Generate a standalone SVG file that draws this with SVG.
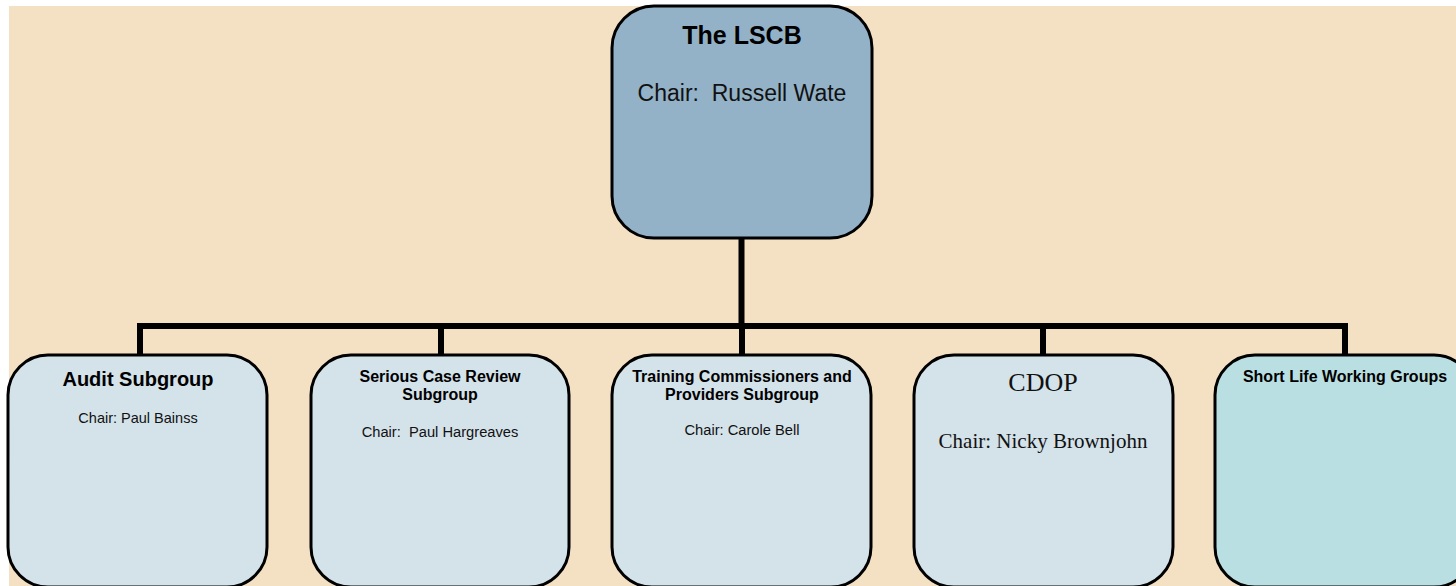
<svg xmlns="http://www.w3.org/2000/svg" width="1456" height="586" viewBox="0 0 1456 586">
<style>
.box{stroke:#000;stroke-width:3}
.top{fill:#93B2C8}
.sub{fill:#D4E2EA}
.slw{fill:#B9DFE2}
.b{font-family:"Liberation Sans",Arial,sans-serif;font-weight:bold;fill:#000;text-anchor:middle}
.r{font-family:"Liberation Sans",Arial,sans-serif;fill:#111;text-anchor:middle;white-space:pre}
.s{font-family:"Liberation Serif","Times New Roman",serif;fill:#111;text-anchor:middle}
.conn{fill:none;stroke:#000;stroke-width:6;stroke-linejoin:miter}
</style>
<rect x="0" y="0" width="1456" height="586" fill="#FFFFFF"/>
<rect x="9" y="6" width="1447" height="580" fill="#F4E0C3"/>
<g id="connectors">
<path class="conn" d="M741.5,238 V326"/>
<path class="conn" d="M140,355 V326 H1345 V355"/>
<path class="conn" d="M441,326 V355 M742,326 V355 M1043,326 V355"/>
</g>
<g id="lscb">
<rect class="box top" x="612" y="6" width="260" height="232" rx="42" ry="42"/>
<text class="b" x="742" y="44" font-size="25">The LSCB</text>
<text class="r" x="742" y="101" font-size="23" xml:space="preserve">Chair:  Russell Wate</text>
</g>
<g id="audit">
<rect class="box sub" x="8" y="355" width="259" height="232" rx="40" ry="40"/>
<text class="b" x="138" y="386" font-size="20">Audit Subgroup</text>
<text class="r" x="138" y="423" font-size="14.5">Chair: Paul Bainss</text>
</g>
<g id="scr">
<rect class="box sub" x="311" y="355" width="258" height="232" rx="40" ry="40"/>
<text class="b" x="440" y="382" font-size="16">Serious Case Review</text>
<text class="b" x="440" y="400" font-size="16">Subgroup</text>
<text class="r" x="440" y="437" font-size="14.7" xml:space="preserve">Chair:  Paul Hargreaves</text>
</g>
<g id="training">
<rect class="box sub" x="612" y="355" width="259" height="232" rx="40" ry="40"/>
<text class="b" x="742" y="382" font-size="16">Training Commissioners and</text>
<text class="b" x="742" y="400" font-size="16">Providers Subgroup</text>
<text class="r" x="742" y="435" font-size="14.7">Chair: Carole Bell</text>
</g>
<g id="cdop">
<rect class="box sub" x="914" y="355" width="259" height="232" rx="40" ry="40"/>
<text class="s" x="1043" y="391" font-size="26">CDOP</text>
<text class="s" x="1043" y="448" font-size="21">Chair: Nicky Brownjohn</text>
</g>
<g id="slwg">
<rect class="box slw" x="1215" y="355" width="259" height="232" rx="40" ry="40"/>
<text class="b" x="1345" y="382" font-size="16">Short Life Working Groups</text>
</g>
</svg>
